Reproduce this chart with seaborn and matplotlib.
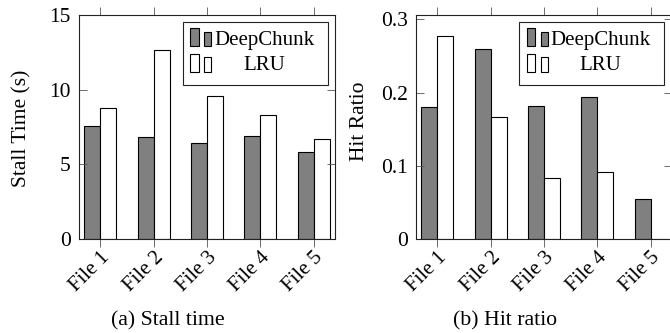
import matplotlib
matplotlib.use("Agg")
import matplotlib.pyplot as plt
import seaborn as sns
import pandas as pd
from matplotlib.patches import Rectangle

files = ["File 1", "File 2", "File 3", "File 4", "File 5"]
methods = ["DeepChunk", "LRU"]
stall_deepchunk = [7.55, 6.83, 6.45, 6.88, 5.85]
stall_lru = [8.8, 12.63, 9.6, 8.28, 6.7]
hit_deepchunk = [0.18, 0.26, 0.182, 0.194, 0.055]
hit_lru = [0.277, 0.167, 0.083, 0.091, 0.0]
stall_yticks = [0, 5, 10, 15]
hit_yticks = [0, 0.1, 0.2, 0.3]
captions = ["(a) Stall time", "(b) Hit ratio"]
ylabels = ["Stall Time (s)", "Hit Ratio"]

colors = {"DeepChunk": "#808080", "LRU": "#ffffff"}

def long_df(a, b):
    return pd.DataFrame({
        "file": files * 2,
        "method": [methods[0]] * len(files) + [methods[1]] * len(files),
        "value": list(a) + list(b),
    })

plt.rcParams["font.family"] = ["Liberation Serif", "DejaVu Serif"]
plt.rcParams["font.size"] = 15

W, H = 670, 333
fig = plt.figure(figsize=(W / 100, H / 100), dpi=100)

def fx(x):
    return x / W

def fy(y):
    return 1 - y / H

ax_left_px = [79, 416]
ax_top, ax_bot, ax_w = 15, 239, 256

panels = [
    (long_df(stall_deepchunk, stall_lru), (0, 15), stall_yticks, ["0", "5", "10", "15"], 0.493),
    (long_df(hit_deepchunk, hit_lru), (0, 0.306), hit_yticks, ["0", "0.1", "0.2", "0.3"], 0.524),
]

for i, (df, ylim, yt, ytl, ylab_y) in enumerate(panels):
    ax = fig.add_axes([fx(ax_left_px[i]), fy(ax_bot), ax_w / W, (ax_bot - ax_top) / H])
    sns.barplot(data=df, x="file", y="value", hue="method", hue_order=methods,
                order=files, palette=colors, width=0.6, edgecolor="black",
                linewidth=0.8, legend=False, ax=ax, errorbar=None)
    ax.set_xlim(-0.4, 4.4)
    ax.set_ylim(*ylim)
    ax.set_yticks(yt)
    ax.set_yticklabels(ytl)
    ax.set_xlabel("")
    ax.set_ylabel(ylabels[i], fontsize=15.5)
    ax.yaxis.set_label_coords(-0.184, ylab_y)
    for s in ax.spines.values():
        s.set_color("#222222")
        s.set_linewidth(0.8)
    ax.tick_params(axis="x", direction="out", length=6, width=0.6, top=True,
                   bottom=True, pad=0.5, labelsize=15, color="#555555")
    ax.tick_params(axis="y", direction="in", length=6, width=0.6, left=True,
                   right=True, pad=6, labelsize=15.5, color="#555555")
    for lab in ax.get_xticklabels():
        lab.set_rotation(45)
        lab.set_ha("right")
        lab.set_va("top")
        lab.set_rotation_mode("anchor")

    # legend drawn in pgfplots ybar style (two small bars per entry)
    bx0 = [183, 519.3][i]
    by0 = 21.7
    fig.patches.append(Rectangle((fx(bx0), fy(85.3)), 145 / W, (85.3 - 21.7) / H,
                                 transform=fig.transFigure, facecolor="white",
                                 edgecolor="#222222", linewidth=0.8, zorder=5))
    rows = [(24, 6, 10, 18.3), (50, 32.6, 35.6, 44)]
    for j, m in enumerate(methods):
        bot, top1, top2, ty = rows[j]
        for (x0, x1, t) in [(7.4, 15.7, top1), (21.4, 28.4, top2)]:
            fig.patches.append(Rectangle((fx(bx0 + x0), fy(by0 + bot)), (x1 - x0) / W,
                                         (bot - t) / H, transform=fig.transFigure,
                                         facecolor=colors[m], edgecolor="black",
                                         linewidth=0.8, zorder=6))
        fig.text(fx(bx0 + 81.2), fy(by0 + ty), m, ha="center", va="center",
                 fontsize=15, zorder=7)

fig.text(fx(167.5), fy(320.7), captions[0], ha="center", va="center", fontsize=15.7)
fig.text(fx(505.5), fy(320.7), captions[1], ha="center", va="center", fontsize=15.7)

fig.savefig("out.png", dpi=100)
